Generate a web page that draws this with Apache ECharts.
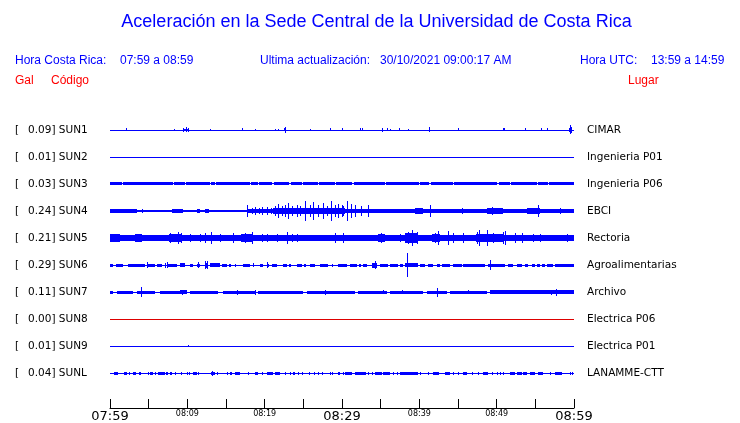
<!DOCTYPE html>
<html><head><meta charset="utf-8">
<script src="https://cdn.jsdelivr.net/npm/echarts@6/dist/echarts.min.js"></script>
<style>html,body{margin:0;padding:0;background:#fff}#c{width:740px;height:423px}</style>
</head><body><div id="c"></div>
<script>
// ---------------- data ----------------
const codes  = ['SUN1','SUN2','SUN3','SUN4','SUN5','SUN6','SUN7','SUN8','SUN9','SUNL'];
const peaks  = ['0.09','0.01','0.03','0.24','0.21','0.29','0.11','0.00','0.01','0.04'];
const places = ['CIMAR','Ingenieria P01','Ingenieria P06','EBCI','Rectoria','Agroalimentarias','Archivo','Electrica P06','Electrica P01','LANAMME-CTT'];
const tickLabels = ['07:59','','08:09','','08:19','','08:29','','08:39','','08:49','','08:59'];

// envelope segments [startMin, endMin, halfAmplitudeGal], spikes [min, halfAmplitudeGal]
const sun1Blobs = [[0,60,0.01],[9.4,10.2,0.025],[22.5,22.8,0.03],[59.3,59.7,0.04]];
const sun1Spikes = [[2.07,0.03],[8.28,0.02],[9.44,0.04],[9.83,0.05],[10.09,0.04],[12.93,0.02],[17.07,0.03],[18.75,0.02],[21.34,0.02],[21.72,0.02],[22.63,0.06],[25.86,0.02],[28.45,0.03],[30.0,0.03],[32.33,0.03],[32.59,0.03],[35.17,0.04],[35.82,0.03],[36.21,0.02],[37.37,0.03],[38.54,0.02],[41.25,0.05],[45.0,0.03],[50.82,0.03],[50.95,0.03],[53.67,0.03],[55.73,0.03],[56.51,0.03],[59.48,0.09],[59.61,0.06]];

const sun2Blobs = [[0,60,0.01]];
const sun2Spikes = [];

const sun3Blobs = [[0,60,0.01],[0,1.5,0.03],[1.65,8.1,0.03],[8.25,9.65,0.03],[9.8,12.9,0.03],[13.05,13.55,0.03],[13.7,18.05,0.03],[18.2,19.1,0.03],[19.25,21.0,0.03],[21.15,23.2,0.03],[23.35,24.8,0.03],[24.95,26.85,0.03],[27.0,29.05,0.03],[29.2,31.35,0.03],[31.5,35.5,0.03],[35.65,40.0,0.03],[40.15,41.3,0.03],[41.45,44.3,0.03],[44.45,50.1,0.03],[50.25,51.7,0.03],[51.85,55.2,0.03],[55.35,56.6,0.03],[56.75,60,0.03]];
const sun3Spikes = [];

const sun4Blobs = [[0,1.0,0.05],[1.0,2.2,0.035],[2.2,3.5,0.05],[3.5,8.0,0.03],[8.0,9.4,0.05],[9.4,11.2,0.03],[11.2,11.7,0.05],[11.7,12.3,0.03],[12.3,12.8,0.05],[12.8,17.7,0.03],[17.7,21.1,0.045],[21.1,30.4,0.07],[30.4,33.4,0.05],[33.4,39.4,0.04],[39.4,40.5,0.055],[40.5,44.9,0.045],[44.9,46.9,0.05],[46.9,48.8,0.045],[48.8,50.8,0.055],[50.8,53.9,0.045],[53.9,55.6,0.055],[55.6,57.3,0.045],[57.3,60,0.05]];
const sun4Spikes = [[4.1,0.05],[17.72,0.12],[18.36,0.06],[18.75,0.08],[19.27,0.06],[19.66,0.08],[20.3,0.08],[20.82,0.06],[21.34,0.1],[21.72,0.14],[22.24,0.1],[22.63,0.12],[23.02,0.16],[23.54,0.1],[24.18,0.12],[24.57,0.1],[25.22,0.2],[25.86,0.12],[26.25,0.18],[26.9,0.12],[27.54,0.16],[28.06,0.1],[28.58,0.2],[29.1,0.12],[29.48,0.14],[30.0,0.12],[30.13,0.1],[30.65,0.2],[31.17,0.14],[31.68,0.12],[32.46,0.1],[33.36,0.12],[37.63,0.04],[41.38,0.12],[45.5,0.07],[49.4,0.08],[55.35,0.12],[58.2,0.07]];

const sun5Blobs = [[0,1.3,0.08],[1.3,3.2,0.06],[3.2,4.2,0.08],[4.2,7.6,0.06],[7.6,9.3,0.09],[9.3,17.0,0.06],[17.0,18.4,0.08],[18.4,34.7,0.06],[34.7,35.6,0.08],[35.6,38.1,0.06],[38.1,39.8,0.1],[39.8,41.6,0.065],[41.6,42.7,0.09],[42.7,47.3,0.06],[47.3,50.8,0.09],[50.8,60,0.06]];
const sun5Spikes = [[7.76,0.1],[8.8,0.12],[9.2,0.1],[10.35,0.08],[11.64,0.08],[12.28,0.1],[13.06,0.13],[14.22,0.08],[15.9,0.1],[17.46,0.1],[18.36,0.12],[19.66,0.08],[20.3,0.08],[21.6,0.08],[22.89,0.13],[23.54,0.08],[24.18,0.08],[29.1,0.1],[30.13,0.1],[35.0,0.1],[37.5,0.08],[38.5,0.12],[39.05,0.16],[39.7,0.12],[42.03,0.1],[42.4,0.14],[43.7,0.14],[44.35,0.1],[45.65,0.1],[47.46,0.12],[47.7,0.16],[48.75,0.16],[49.5,0.1],[50.8,0.12],[51.1,0.14],[52.4,0.1],[53.3,0.1],[54.7,0.08],[55.6,0.08],[59.1,0.08]];

const sun6Blobs = [[0,60,0.01],[0,0.4,0.03],[0.8,1.7,0.03],[2.3,4.5,0.03],[4.9,5.8,0.03],[6.1,6.7,0.03],[7.5,8.7,0.03],[9.05,9.7,0.04],[10.35,10.75,0.03],[11.25,11.65,0.03],[12.3,12.7,0.05],[12.9,14.2,0.04],[14.5,15.1,0.03],[15.45,15.6,0.03],[16.1,16.25,0.03],[17.2,18.1,0.03],[18.45,18.6,0.03],[19.4,19.8,0.03],[20.4,20.5,0.03],[20.9,21.6,0.03],[22.4,22.9,0.03],[23.2,23.35,0.03],[24.2,24.8,0.03],[25.15,25.3,0.03],[25.85,26.5,0.03],[27.15,28.2,0.03],[28.65,28.8,0.03],[29.45,30.65,0.03],[31.0,31.95,0.03],[32.25,32.4,0.03],[32.7,33.25,0.03],[33.85,34.55,0.05],[34.9,35.95,0.03],[36.2,37.25,0.03],[37.5,37.9,0.03],[38.15,39.8,0.035],[40.05,40.75,0.03],[41.1,41.8,0.03],[42.3,42.7,0.03],[42.9,43.95,0.03],[44.35,45.5,0.03],[45.65,48.5,0.03],[48.9,51.1,0.03],[51.45,52.1,0.03],[52.6,53.3,0.03],[53.65,54.05,0.03],[54.55,54.95,0.03],[55.2,55.6,0.03],[55.85,56.25,0.03],[56.5,57.3,0.03],[57.55,60,0.03]];
const sun6Spikes = [[4.8,0.06],[7.1,0.05],[7.35,0.06],[11.4,0.06],[12.3,0.08],[12.5,0.08],[18.5,0.04],[20.3,0.06],[34.3,0.08],[38.4,0.24],[49.15,0.1]];

const sun7Blobs = [[0,60,0.01],[0,0.4,0.03],[0.9,3.0,0.03],[3.5,5.8,0.03],[6.45,9.05,0.03],[9.05,9.95,0.045],[10.35,13.95,0.03],[14.6,18.7,0.03],[19.15,24.9,0.03],[25.5,30.4,0.03],[30.4,31.65,0.03],[32.05,35.8,0.03],[36.2,40.5,0.03],[41.0,43.55,0.03],[43.95,48.7,0.03],[49.15,60,0.04]];
const sun7Spikes = [[4.0,0.1],[9.3,0.05],[16.4,0.05],[18.75,0.05],[27.8,0.05],[35.3,0.04],[37.8,0.04],[42.3,0.09],[46.3,0.04],[57.0,0.05],[57.7,0.07]];

const sun8Blobs = [[0,60,0.01]];
const sun8Spikes = [];

const sun9Blobs = [[0,60,0.01]];
const sun9Spikes = [[10.1,0.02]];

const sunlBlobs = [[0,60,0.01],[0.5,1.0,0.03],[1.8,2.2,0.03],[2.4,2.6,0.03],[3.0,3.4,0.03],[3.8,3.95,0.03],[4.85,5.0,0.03],[5.2,5.6,0.03],[5.8,5.95,0.03],[6.2,7.1,0.03],[7.3,7.45,0.03],[7.75,8.0,0.03],[8.4,8.5,0.03],[9.15,9.25,0.03],[9.9,10.0,0.03],[10.2,10.3,0.03],[10.7,11.25,0.03],[11.35,11.45,0.03],[13.0,13.6,0.03],[13.8,13.9,0.03],[15.1,15.2,0.03],[15.5,15.8,0.03],[16.15,16.8,0.03],[17.8,17.9,0.03],[18.75,19.15,0.03],[19.6,19.7,0.03],[20.25,20.35,0.03],[20.4,21.1,0.03],[21.3,22.0,0.03],[22.6,22.7,0.03],[23.25,23.35,0.03],[23.65,23.95,0.03],[24.3,24.4,0.03],[24.8,24.9,0.03],[25.7,25.8,0.03],[26.35,26.45,0.03],[26.85,26.95,0.03],[27.35,27.45,0.03],[28.4,28.5,0.03],[28.65,28.75,0.03],[29.5,29.75,0.03],[30.1,30.2,0.03],[30.4,31.3,0.03],[31.7,33.1,0.03],[33.35,33.45,0.03],[33.85,33.95,0.03],[34.3,35.15,0.03],[35.3,36.2,0.03],[36.6,36.7,0.03],[37.1,37.2,0.03],[37.5,39.8,0.03],[40.05,40.15,0.03],[41.1,41.2,0.03],[41.8,42.55,0.03],[43.3,43.95,0.03],[44.3,44.4,0.03],[44.95,45.05,0.03],[45.6,46.15,0.03],[46.75,46.85,0.03],[47.55,47.65,0.03],[48.2,48.9,0.03],[49.35,49.45,0.03],[50.0,50.1,0.03],[50.4,50.5,0.03],[50.8,50.9,0.03],[51.7,52.4,0.03],[52.6,53.3,0.03],[53.4,53.95,0.03],[54.3,54.95,0.03],[55.3,56.0,0.03],[56.85,56.95,0.03],[57.5,58.45,0.03],[59.45,59.55,0.03],[59.8,59.9,0.03]];
const sunlSpikes = [[13.2,0.05]];

// ---------------- chart ----------------
const traceBlobs  = [sun1Blobs,sun2Blobs,sun3Blobs,sun4Blobs,sun5Blobs,sun6Blobs,sun7Blobs,sun8Blobs,sun9Blobs,sunlBlobs];
const traceSpikes = [sun1Spikes,sun2Spikes,sun3Spikes,sun4Spikes,sun5Spikes,sun6Spikes,sun7Spikes,sun8Spikes,sun9Spikes,sunlSpikes];
const BLUE = '#0000ff', RED = '#ff0000', LINE_RED = '#dd0000';
const lane = 0.54; // Gal per trace lane
const nTr = codes.length;
const seriesData = [];
traceBlobs.forEach((blobs, i) => {
  const c = (nTr - i - 0.5) * lane;
  blobs.forEach(b => seriesData.push([b[0], b[1], c, b[2], i]));
  traceSpikes[i].forEach(s => seriesData.push([s[0], s[0], c, s[1], i]));
});

function renderItem(params, api) {
  const t0 = api.value(0), t1 = api.value(1), c = api.value(2), a = api.value(3), i = api.value(4);
  const p0 = api.coord([t0, c + a]);
  const p1 = api.coord([t1, c - a]);
  let x0 = Math.round(p0[0]), x1 = Math.round(p1[0]);
  if (x1 <= x0) x1 = x0 + 1;
  let y0 = Math.round(p0[1]), y1 = Math.round(p1[1]);
  if (y1 <= y0) y1 = y0 + 1;
  return { type: 'rect', shape: { x: x0, y: y0, width: x1 - x0, height: y1 - y0 },
           style: { fill: i === 7 ? LINE_RED : BLUE } };
}

const chart = echarts.init(document.getElementById('c'), null, { renderer: 'canvas' });
const lblFont = 'DejaVu Sans';
const hdrFont = 'Liberation Sans';
const hdr = (x, y, text, fill) => ({ type: 'text', x: x, y: y,
  style: { text: text, font: '12px "' + hdrFont + '"', fill: fill, textVerticalAlign: 'middle' } });
chart.setOption({
  animation: false,
  backgroundColor: '#fff',
  grid: [
    { left: 110, right: 166, top: 116.5, height: 270 },
    { left: 110, right: 166, top: 400, height: 9 }
  ],
  xAxis: [
    { type: 'value', min: 0, max: 60, gridIndex: 0, show: false },
    { type: 'value', min: 0, max: 60, interval: 5, gridIndex: 1, position: 'bottom',
      splitLine: { show: false },
      axisLine: { lineStyle: { color: '#000', width: 1 } },
      axisTick: { inside: true, length: 9, lineStyle: { color: '#000', width: 1 } },
      axisLabel: {
        margin: 2, hideOverlap: false, showMinLabel: true, showMaxLabel: true,
        formatter: v => {
          const s = tickLabels[Math.round(v / 5)] || '';
          if (!s) return '';
          return (v % 30 === 0) ? '{big|' + s + '}' : '{small|' + s + '}';
        },
        rich: {
          big: { fontFamily: lblFont, fontSize: 13, color: '#000' },
          small: { fontFamily: lblFont, fontSize: 8, color: '#000' }
        }
      }
    }
  ],
  yAxis: [
    { type: 'value', min: 0, max: nTr * lane, show: false, gridIndex: 0 },
    { type: 'category', data: codes, inverse: true, position: 'left', gridIndex: 0,
      axisLine: { show: false }, axisTick: { show: false }, splitLine: { show: false },
      axisLabel: { align: 'left', margin: 95, interval: 0,
        formatter: (v, idx) => '{a|[}{b|' + peaks[idx] + '] ' + v + '}',
        rich: { a: { width: 13, fontFamily: lblFont, fontSize: 10.5, color: '#000' },
                b: { fontFamily: lblFont, fontSize: 10.5, color: '#000' } } } },
    { type: 'category', data: places, inverse: true, position: 'right', gridIndex: 0,
      axisLine: { show: false }, axisTick: { show: false }, splitLine: { show: false },
      axisLabel: { align: 'left', margin: 13, interval: 0, fontFamily: lblFont, fontSize: 10.5, color: '#000' } },
    { type: 'value', min: 0, max: 1, show: false, gridIndex: 1 }
  ],
  series: [{
    type: 'custom', renderItem: renderItem, data: seriesData, clip: false,
    encode: { x: [0, 1], y: [2] }, xAxisIndex: 0, yAxisIndex: 0, silent: true
  }],
  graphic: [
    { type: 'text', x: 376.5, y: 22, style: { text: 'Aceleración en la Sede Central de la Universidad de Costa Rica', font: '18px "' + hdrFont + '"', fill: BLUE, textAlign: 'center', textVerticalAlign: 'middle' } },
    hdr(15, 61, 'Hora Costa Rica:', BLUE),
    hdr(120, 61, '07:59 a 08:59', BLUE),
    hdr(260, 61, 'Ultima actualización:', BLUE),
    hdr(380, 61, '30/10/2021 09:00:17 AM', BLUE),
    hdr(580, 61, 'Hora UTC:', BLUE),
    hdr(651, 61, '13:59 a 14:59', BLUE),
    hdr(15, 81, 'Gal', RED),
    hdr(51, 81, 'Código', RED),
    hdr(628, 81, 'Lugar', RED)
  ]
});
</script>
</body></html>
